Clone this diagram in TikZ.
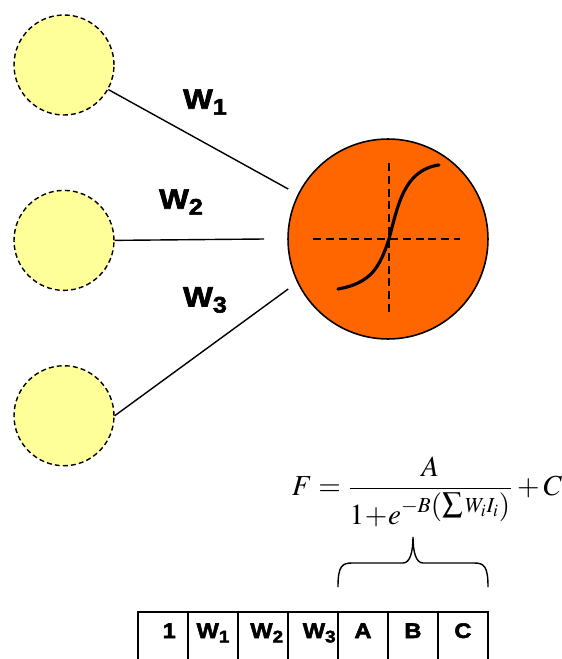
\documentclass[tikz,border=0pt]{standalone}
\usepackage{mathptmx}
\usepackage[no-math]{fontspec}
\usepackage{tikz}
\usetikzlibrary{positioning, calc}
\newfontfamily\labelfont{Liberation Sans}[BoldFeatures={FakeBold=2.5, FakeStretch=1.12}]
\newcommand{\wsub}[1]{\raisebox{-0.4ex}{\scalebox{0.8}{#1}}}
\definecolor{inputfill}{RGB}{255,255,153}
\definecolor{neuronfill}{RGB}{255,102,0}

\begin{document}
\begin{tikzpicture}[
    x=0.02cm, y=-0.02cm,
    input/.style={circle, draw, dash pattern=on 2.8pt off 1.8pt, line width=0.8pt, fill=inputfill, minimum size=2cm, inner sep=0pt},
    neuron/.style={circle, draw, line width=0.9pt, fill=neuronfill, minimum size=4cm, inner sep=0pt},
    wire/.style={line width=0.8pt},
    axisline/.style={dash pattern=on 4.5pt off 2.8pt, line width=0.7pt},
    weight/.style={font=\labelfont\bfseries\fontsize{16}{19}\selectfont},
    cell/.style={draw, line width=0.8pt, anchor=north, minimum width=1cm, inner xsep=0pt, inner ysep=0pt, outer sep=0pt, text height=0.52cm, text depth=1.4cm, font=\labelfont\bfseries\fontsize{12}{14}\selectfont},
    formula/.style={font=\fontsize{16.5}{19}\selectfont}
]
    \useasboundingbox (0,0) rectangle (561,659);
    \clip (0,0) rectangle (561,659);

    \node[input] (in1) at (64,65) {};
    \node[input, below=1.48cm of in1] (in2) {};
    \node[input, below=1.48cm of in2] (in3) {};
    \node[neuron] (neuron) at (388,239) {};
    \coordinate (end1) at ([xshift=0.02cm, yshift=1cm]neuron.west);
    \coordinate (end2) at ([xshift=-0.46cm]neuron.west);
    \coordinate (end3) at ([xshift=0.02cm, yshift=-1cm]neuron.west);

    \draw[wire] (in1.-29) -- (end1);
    \draw[wire] (in2.east) -- (end2);
    \draw[wire] (in3.east) -- (end3);

    \node[weight] (w1) at (205,102) {W\wsub{1}};
    \node[weight] (w2) at (181,202) {W\wsub{2}};
    \node[weight] (w3) at (205,300) {W\wsub{3}};

    \draw[axisline] (313,239) -- (460,239);
    \draw[axisline] (389,163) -- (389,312);
    \draw[line width=1.8pt, line cap=round] (338,289) .. controls (372,283) and (380,266) .. (389,239)
        .. controls (398,205) and (404,170) .. (439,165);

    \node[formula] (fx) at (427,492) {$\displaystyle F=\frac{A}{1\!+\!e^{-B\left(\textstyle\sum\scriptstyle W_iI_i\right)}}+C$};

    \draw[line width=0.8pt] (338,587) .. controls (338,566) and (342,563) .. (352,563) -- (403,563)
        .. controls (410,563) and (413,552) .. (413,537)
        .. controls (413,552) and (416,563) .. (423,563) -- (474,563)
        .. controls (484,563) and (488,566) .. (488,587);

    \node[cell] (c1) at (163,612) {\hspace{0.25cm}1};
    \node[cell, right=0pt of c1] (c2) {W\wsub{1}\hspace{0.2cm}};
    \node[cell, right=0pt of c2] (c3) {\hspace{0.15cm}W\wsub{2}};
    \node[cell, right=0pt of c3] (c4) {\hspace{0.25cm}W\wsub{3}};
    \node[cell, right=0pt of c4] (c5) {A\hspace{0.3cm}};
    \node[cell, right=0pt of c5] (c6) {B};
    \node[cell, right=0pt of c6] (c7) {C\hspace{0.4cm}};
\end{tikzpicture}
\end{document}
